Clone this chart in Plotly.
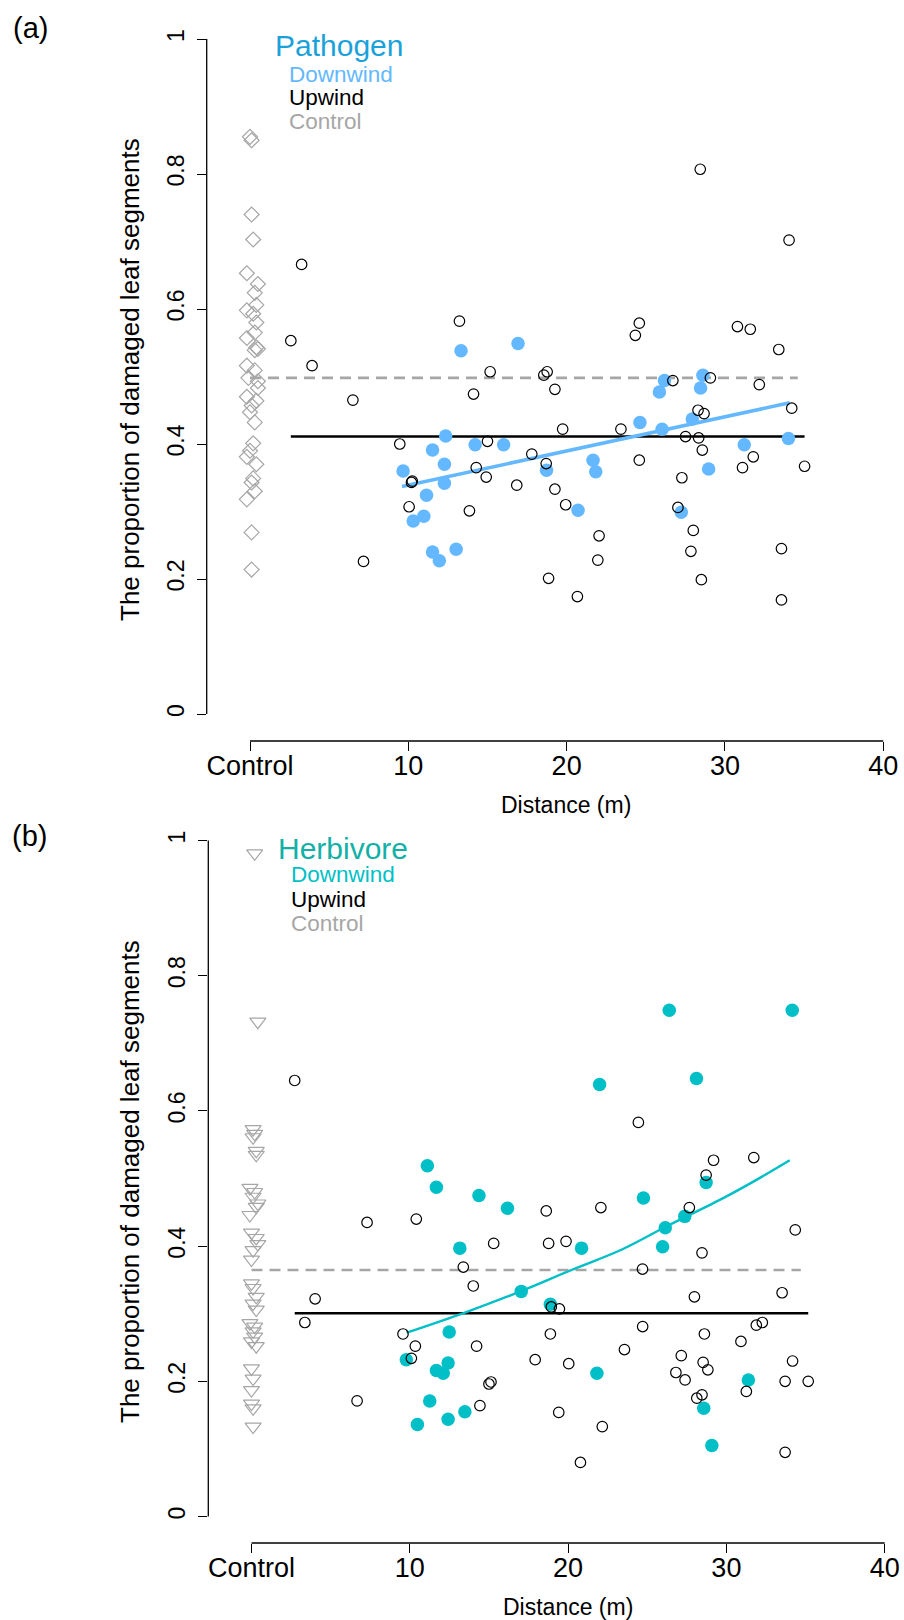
import plotly.graph_objects as go

# ---------------- Panel (a): Pathogen ----------------
A_CTRL_Y = [0.855, 0.850, 0.740, 0.703, 0.653, 0.637, 0.624, 0.606, 0.598, 0.593,
            0.580, 0.565, 0.557, 0.543, 0.541, 0.539, 0.516, 0.509, 0.498, 0.493,
            0.483, 0.470, 0.464, 0.457, 0.447, 0.432, 0.401, 0.390, 0.381, 0.370,
            0.349, 0.343, 0.330, 0.318, 0.269, 0.214]
A_CTRL_X = [0.0, 0.1, 0.1, 0.2, -0.2, 0.5, 0.3, 0.4, -0.2, 0.2,
            0.4, 0.3, -0.2, 0.4, 0.5, 0.3, -0.2, 0.3, -0.1, 0.5,
            0.5, -0.2, 0.4, 0.1, 0.0, 0.3, 0.2, 0.0, -0.2, 0.4,
            0.2, 0.1, 0.3, -0.2, 0.1, 0.1]

A_UP_X = [2.58, 3.26, 3.92, 6.50, 7.17, 9.46, 10.05, 10.20, 10.25, 13.23,
          13.86, 14.12, 14.29, 14.92, 15.00, 15.17, 16.85, 17.80, 18.56, 18.77,
          18.71, 18.86, 19.26, 19.26, 19.75, 19.94, 20.68, 21.97, 22.05, 23.43,
          24.34, 24.59, 24.59, 26.71, 27.03, 27.28, 27.51, 27.85, 28.00, 28.30,
          28.34, 28.44, 28.51, 28.57, 28.68, 29.08, 30.79, 31.11, 31.60, 31.79,
          32.17, 33.40, 33.57, 33.57, 34.05, 34.22, 35.03]
A_UP_Y = [0.553, 0.666, 0.516, 0.465, 0.226, 0.400, 0.307, 0.343, 0.345, 0.582,
          0.301, 0.474, 0.365, 0.351, 0.404, 0.507, 0.339, 0.385, 0.502, 0.507,
          0.371, 0.201, 0.481, 0.333, 0.422, 0.310, 0.174, 0.228, 0.264, 0.422,
          0.561, 0.579, 0.376, 0.494, 0.306, 0.350, 0.411, 0.241, 0.272, 0.450,
          0.409, 0.807, 0.199, 0.391, 0.445, 0.498, 0.574, 0.365, 0.570, 0.381,
          0.488, 0.540, 0.245, 0.169, 0.702, 0.453, 0.367]

A_DOWN_X = [9.67, 10.31, 10.98, 11.15, 11.53, 11.53, 11.96, 12.28, 12.28, 12.36,
            13.02, 13.33, 14.22, 16.02, 16.93, 18.73, 20.72, 21.67, 21.84, 24.63,
            25.86, 26.03, 26.18, 27.24, 27.94, 28.46, 28.61, 28.97, 31.22, 34.01]
A_DOWN_Y = [0.360, 0.286, 0.293, 0.324, 0.391, 0.240, 0.227, 0.370, 0.342, 0.412,
            0.244, 0.538, 0.399, 0.399, 0.549, 0.361, 0.302, 0.376, 0.359, 0.432,
            0.477, 0.422, 0.494, 0.299, 0.437, 0.483, 0.502, 0.363, 0.399, 0.408]

A_FIT_X = [9.6, 34.1]
A_FIT_Y = [0.337, 0.461]
A_UP_MEAN = 0.411
A_CTRL_MEAN = 0.498
A_CTRL_LINE_X = [0.0, 34.6]

# ---------------- Panel (b): Herbivore ----------------
B_CTRL_Y = [0.981, 0.732, 0.573, 0.566, 0.561, 0.541, 0.535, 0.486, 0.480, 0.473,
            0.463, 0.458, 0.446, 0.420, 0.412, 0.403, 0.394, 0.380, 0.345, 0.338,
            0.325, 0.315, 0.306, 0.286, 0.281, 0.274, 0.266, 0.259, 0.252, 0.219,
            0.204, 0.187, 0.167, 0.160, 0.133]
B_CTRL_X = [0.2, 0.4, 0.1, 0.2, 0.1, 0.3, 0.3, -0.1, 0.2, 0.1,
            0.4, 0.3, -0.1, 0.0, 0.3, 0.4, 0.1, 0.0, 0.0, 0.1,
            0.3, 0.1, 0.3, -0.1, 0.2, 0.1, 0.2, 0.0, 0.3, 0.0,
            0.1, 0.0, 0.0, 0.1, 0.1]

B_UP_X = [2.73, 3.37, 4.02, 6.67, 7.30, 9.57, 10.10, 10.35, 10.41, 13.38,
          14.01, 14.22, 14.43, 15.00, 15.13, 15.30, 17.92, 18.62, 18.77, 18.88,
          18.94, 19.45, 19.41, 19.87, 20.04, 20.78, 22.07, 22.16, 23.56, 24.44,
          24.70, 24.71, 26.81, 27.15, 27.39, 27.66, 27.98, 28.13, 28.46, 28.46,
          28.53, 28.61, 28.72, 28.83, 29.19, 30.92, 31.26, 31.73, 31.89, 32.27,
          33.52, 33.71, 33.71, 34.18, 34.35, 35.17]
B_UP_Y = [0.645, 0.287, 0.322, 0.171, 0.435, 0.270, 0.234, 0.252, 0.440, 0.369,
          0.341, 0.252, 0.164, 0.196, 0.199, 0.404, 0.232, 0.452, 0.404, 0.270,
          0.310, 0.307, 0.154, 0.407, 0.226, 0.080, 0.457, 0.133, 0.247, 0.583,
          0.366, 0.281, 0.213, 0.238, 0.202, 0.457, 0.325, 0.175, 0.180, 0.390,
          0.228, 0.270, 0.505, 0.217, 0.527, 0.259, 0.185, 0.531, 0.283, 0.287,
          0.331, 0.200, 0.095, 0.230, 0.424, 0.200]

B_DOWN_X = [9.78, 10.48, 11.11, 11.26, 11.68, 11.68, 12.11, 12.42, 12.42, 12.49,
            13.16, 13.48, 14.37, 16.17, 17.04, 18.88, 20.85, 21.82, 21.99, 24.76,
            25.97, 26.14, 26.39, 27.37, 28.11, 28.57, 28.72, 29.08, 31.39, 34.16]
B_DOWN_Y = [0.232, 0.136, 0.519, 0.171, 0.487, 0.216, 0.212, 0.227, 0.144, 0.273,
            0.397, 0.155, 0.475, 0.456, 0.333, 0.314, 0.397, 0.212, 0.639, 0.471,
            0.399, 0.427, 0.749, 0.444, 0.648, 0.160, 0.494, 0.105, 0.202, 0.749]

B_FIT_X = [9.8, 13.4, 17.0, 20.25, 23.4, 26.2, 29.8, 31.9, 34.0]
B_FIT_Y = [0.272, 0.301, 0.333, 0.365, 0.395, 0.429, 0.471, 0.498, 0.527]
B_UP_MEAN = 0.3006
B_CTRL_MEAN = 0.3646
B_CTRL_LINE_X = [0.0, 34.7]

X_TICKS = [0, 10, 20, 30, 40]
X_TICK_TEXT = ["Control", "10", "20", "30", "40"]
Y_TICKS = [0, 0.2, 0.4, 0.6, 0.8, 1]
Y_TICK_TEXT = ["0", "0.2", "0.4", "0.6", "0.8", "1"]

FONT = "Arial, Liberation Sans, sans-serif"
GREY = "#A6A6A6"
BLUE = "#63B8FF"
TEAL = "#00BFC6"
W, H = 904, 1620

fig = go.Figure()


def add_panel(xa, ya, ctrl_x, ctrl_y, ctrl_sym, ctrl_size, up_x, up_y, dn_x, dn_y, dn_col,
              fit_x, fit_y, fit_w, up_mean, ctrl_mean, ctrl_line_x):
    fig.add_trace(go.Scatter(x=ctrl_x, y=ctrl_y, mode="markers", xaxis=xa, yaxis=ya,
                             marker=dict(symbol=ctrl_sym, size=ctrl_size, color=GREY,
                                         line=dict(color=GREY, width=1.2))))
    fig.add_trace(go.Scatter(x=ctrl_line_x, y=[ctrl_mean] * len(ctrl_line_x), mode="lines",
                             xaxis=xa, yaxis=ya,
                             line=dict(color=GREY, width=2.6, dash="11px,7px")))
    fig.add_trace(go.Scatter(x=[min(up_x), max(up_x)], y=[up_mean, up_mean], mode="lines",
                             xaxis=xa, yaxis=ya, line=dict(color="black", width=2.6)))
    fig.add_trace(go.Scatter(x=dn_x, y=dn_y, mode="markers", xaxis=xa, yaxis=ya,
                             marker=dict(symbol="circle", size=13.5, color=dn_col,
                                         line=dict(width=0))))
    fig.add_trace(go.Scatter(x=fit_x, y=fit_y, mode="lines", xaxis=xa, yaxis=ya,
                             line=dict(color=dn_col, width=fit_w, shape="spline")))
    fig.add_trace(go.Scatter(x=up_x, y=up_y, mode="markers", xaxis=xa, yaxis=ya,
                             marker=dict(symbol="circle-open", size=10.5, color="black",
                                         line=dict(color="black", width=1.2))))


add_panel("x", "y", A_CTRL_X, A_CTRL_Y, "diamond-open", 11.5, A_UP_X, A_UP_Y, A_DOWN_X,
          A_DOWN_Y, BLUE, A_FIT_X, A_FIT_Y, 3.5, A_UP_MEAN, A_CTRL_MEAN, A_CTRL_LINE_X)
add_panel("x2", "y2", B_CTRL_X, B_CTRL_Y, "triangle-down-open", 14, B_UP_X, B_UP_Y,
          B_DOWN_X, B_DOWN_Y, TEAL, B_FIT_X, B_FIT_Y, 2.4, B_UP_MEAN, B_CTRL_MEAN,
          B_CTRL_LINE_X)


def xaxis_cfg(dom, rng, anchor):
    return dict(domain=dom, range=rng, anchor=anchor, showgrid=False, zeroline=False,
                showline=False, ticks="outside", ticklen=9, tickwidth=1.3,
                tickcolor="black", tickvals=X_TICKS, ticktext=X_TICK_TEXT,
                tickfont=dict(family=FONT, size=27, color="black"), ticklabelstandoff=-8)


def yaxis_cfg(dom, rng, anchor):
    return dict(domain=dom, range=rng, anchor=anchor, showgrid=False, zeroline=False,
                showline=False, ticks="outside", ticklen=9, tickwidth=1.3,
                tickcolor="black", tickvals=Y_TICKS, ticktext=Y_TICK_TEXT, tickangle=-90,
                tickfont=dict(family=FONT, size=23, color="black"), ticklabelstandoff=4)


def px_x(p):
    return p / W


def px_y(p):
    return 1 - p / H


fig.update_layout(
    width=W, height=H, autosize=False, showlegend=False,
    margin=dict(l=0, r=0, t=0, b=0),
    paper_bgcolor="white", plot_bgcolor="white",
    xaxis=xaxis_cfg([px_x(206.7), 1], [-2.735, 41.31], "y"),
    yaxis=yaxis_cfg([px_y(741), px_y(30)], [-0.04, 1.01333], "x"),
    xaxis2=xaxis_cfg([px_x(208.3), 1], [-2.729, 41.22], "y2"),
    yaxis2=yaxis_cfg([px_y(1543), px_y(830)], [-0.0392, 1.01553], "x2"),
)

# axis lines drawn like R's axis(): only over the tick range
for xa, ya in [("x", "y"), ("x2", "y2")]:
    fig.add_shape(type="line", xref=xa + " domain", yref=ya, x0=0, x1=0,
                  y0=Y_TICKS[0], y1=Y_TICKS[-1], line=dict(color="black", width=1.3))
    fig.add_shape(type="line", xref=xa, yref=ya + " domain", x0=X_TICKS[0], x1=X_TICKS[-1],
                  y0=0, y1=0, line=dict(color="black", width=1.3))


def txt(text, x, y, size, color="black", angle=0, xanchor="left"):
    fig.add_annotation(text=text, x=px_x(x), y=px_y(y), xref="paper", yref="paper",
                       xanchor=xanchor, yanchor="middle", showarrow=False, textangle=angle,
                       font=dict(family=FONT, size=size, color=color))


YTITLE = "The proportion of damaged leaf segments"
XTITLE = "Distance (m)"

# Panel (a) texts
txt("(a)", 11, 28, 29)
txt("Pathogen", 273, 45, 30, "#1BA1DA")
txt("Downwind", 287, 74, 22.5, BLUE)
txt("Upwind", 287, 97.5, 22.5, "black")
txt("Control", 287, 121, 22.5, GREY)
txt(YTITLE, 130, 380, 26, angle=-90, xanchor="center")
txt(XTITLE, 566, 805, 23, xanchor="center")

# Panel (b) texts
txt("(b)", 10, 836, 29)
txt("Herbivore", 276, 848, 30, "#12B0A6")
txt("Downwind", 289, 875, 22.5, TEAL)
txt("Upwind", 289, 899, 22.5, "black")
txt("Control", 289, 923, 22.5, GREY)
txt(YTITLE, 130, 1182, 26, angle=-90, xanchor="center")
txt(XTITLE, 568, 1607, 23, xanchor="center")

fig.write_html("out.html")
